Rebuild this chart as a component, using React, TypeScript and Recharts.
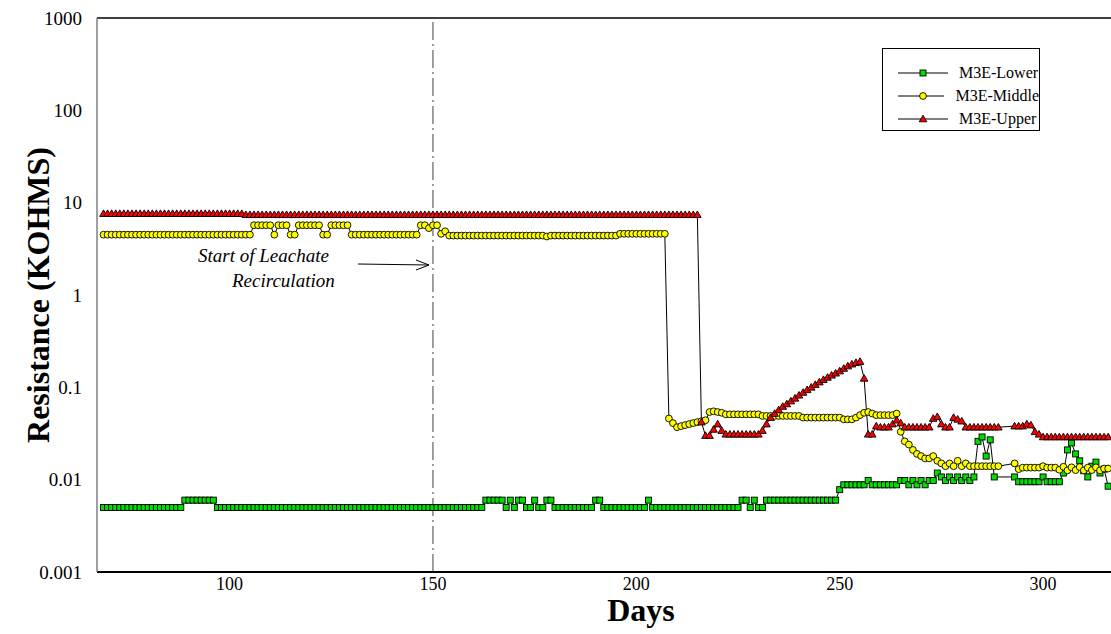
import { LineChart, Line, XAxis, YAxis, ReferenceLine, Legend } from "recharts";

const SERIF = "'Liberation Serif', 'Times New Roman', Times, serif";

const X_TICKS = [100, 150, 200, 250, 300];
const Y_TICKS = [0.001, 0.01, 0.1, 1, 10, 100, 1000];
const X_DOMAIN = [67.4, 316.7];
const RECIRCULATION_DAY = 150;

// Daily resistance readings (kOhm), stored as [firstDay, lastDay, value] runs.
const lowerRuns: [number, number, number][] = [
  [69, 88, 0.005], [89, 96, 0.006], [97, 162, 0.005], [163, 167, 0.006],
  [168, 168, 0.005], [169, 169, 0.006], [170, 170, 0.005], [171, 172, 0.006],
  [173, 174, 0.005], [175, 175, 0.006], [176, 177, 0.005], [178, 179, 0.006],
  [180, 189, 0.005], [190, 191, 0.006], [192, 202, 0.005], [203, 203, 0.006],
  [204, 225, 0.005], [226, 227, 0.006], [228, 228, 0.005], [229, 229, 0.006],
  [230, 231, 0.005], [232, 249, 0.006], [250, 250, 0.0078], [251, 256, 0.0088],
  [257, 257, 0.0098], [258, 264, 0.0088], [265, 266, 0.0098], [267, 267, 0.0088],
  [268, 268, 0.0098], [269, 269, 0.0088], [270, 270, 0.0098], [271, 271, 0.0088],
  [272, 273, 0.0098], [274, 274, 0.0118], [275, 275, 0.0107], [276, 276, 0.0098],
  [277, 277, 0.0107], [278, 278, 0.0098], [279, 279, 0.0107], [280, 280, 0.0098],
  [281, 281, 0.0107], [282, 282, 0.0098], [283, 283, 0.0107], [284, 284, 0.026],
  [285, 285, 0.029], [286, 286, 0.018], [287, 287, 0.027], [288, 288, 0.0107],
  [293, 293, 0.0107], [294, 299, 0.0095], [300, 300, 0.0107], [301, 304, 0.0095],
  [305, 305, 0.0118], [306, 306, 0.021], [307, 307, 0.025], [308, 308, 0.019],
  [309, 309, 0.016], [310, 310, 0.0125], [311, 311, 0.0107], [312, 312, 0.014],
  [313, 313, 0.0155], [314, 314, 0.0118], [315, 315, 0.013], [316, 316, 0.0085],
];

const middleRuns: [number, number, number][] = [
  [69, 105, 4.5], [106, 110, 5.7], [111, 111, 4.5], [112, 114, 5.7],
  [115, 116, 4.5], [117, 122, 5.7], [123, 124, 4.5], [125, 129, 5.7],
  [130, 146, 4.5], [147, 148, 5.7], [149, 149, 5.3], [150, 151, 5.7],
  [152, 152, 4.6], [153, 153, 4.9], [154, 177, 4.4], [178, 178, 4.3],
  [179, 195, 4.4], [196, 207, 4.6], [208, 208, 0.046], [209, 209, 0.041],
  [210, 210, 0.037], [211, 211, 0.038], [212, 212, 0.039], [213, 213, 0.04],
  [214, 214, 0.041], [215, 215, 0.042], [216, 216, 0.043], [217, 217, 0.044],
  [218, 218, 0.054], [219, 219, 0.055], [220, 220, 0.054], [221, 221, 0.053],
  [222, 230, 0.051], [231, 240, 0.049], [241, 250, 0.047], [251, 253, 0.045],
  [254, 254, 0.047], [255, 255, 0.05], [256, 256, 0.053], [257, 257, 0.054],
  [258, 258, 0.052], [259, 263, 0.05], [264, 264, 0.052], [265, 265, 0.033],
  [266, 266, 0.026], [267, 267, 0.024], [268, 268, 0.021], [269, 269, 0.019],
  [270, 270, 0.018], [271, 272, 0.017], [273, 273, 0.018], [274, 274, 0.016],
  [275, 275, 0.015], [276, 276, 0.014], [277, 277, 0.015], [278, 278, 0.014],
  [279, 279, 0.016], [280, 280, 0.014], [281, 281, 0.015], [282, 289, 0.014],
  [293, 293, 0.015], [294, 294, 0.013], [295, 299, 0.0135], [300, 300, 0.014],
  [301, 303, 0.0135], [304, 304, 0.0128], [305, 305, 0.0138], [306, 306, 0.0126],
  [307, 307, 0.0136], [308, 308, 0.0127], [309, 309, 0.0137], [310, 310, 0.0126],
  [311, 311, 0.0135], [312, 312, 0.0127], [313, 313, 0.0136], [314, 314, 0.0126],
  [315, 316, 0.0132],
];

const upperRuns: [number, number, number][] = [
  [69, 103, 7.6], [104, 215, 7.4], [216, 216, 0.042], [217, 218, 0.03],
  [219, 219, 0.035], [220, 220, 0.04], [221, 221, 0.034], [222, 230, 0.031],
  [231, 231, 0.034], [232, 232, 0.04], [233, 233, 0.047], [234, 234, 0.052],
  [235, 235, 0.057], [236, 236, 0.062], [237, 237, 0.066], [238, 238, 0.071],
  [239, 239, 0.076], [240, 240, 0.082], [241, 241, 0.088], [242, 242, 0.094],
  [243, 243, 0.1], [244, 244, 0.107], [245, 245, 0.114], [246, 246, 0.121],
  [247, 247, 0.128], [248, 248, 0.135], [249, 249, 0.142], [250, 250, 0.15],
  [251, 251, 0.16], [252, 252, 0.17], [253, 253, 0.178], [254, 254, 0.185],
  [255, 255, 0.19], [256, 256, 0.125], [257, 258, 0.031], [259, 259, 0.038],
  [260, 262, 0.037], [263, 263, 0.04], [264, 264, 0.044], [265, 265, 0.041],
  [266, 272, 0.037], [273, 273, 0.046], [274, 274, 0.048], [275, 275, 0.04],
  [276, 277, 0.037], [278, 278, 0.047], [279, 279, 0.045], [280, 280, 0.043],
  [281, 289, 0.037], [293, 295, 0.038], [296, 296, 0.04], [297, 297, 0.039],
  [298, 298, 0.033], [299, 299, 0.031], [300, 316, 0.029],
];

const expand = (runs: [number, number, number][]) => {
  const pts: { day: number; r: number }[] = [];
  for (const [a, b, v] of runs) for (let d = a; d <= b; d++) pts.push({ day: d, r: v });
  return pts;
};

type Kind = "square" | "circle" | "triangle";

const Marker = ({ kind, cx, cy }: { kind: Kind; cx: number; cy: number }) => {
  if (kind === "square")
    return <rect x={cx - 3} y={cy - 3} width={6} height={6} fill="#00DD00" stroke="#000" strokeWidth={0.9} />;
  if (kind === "circle")
    return <circle cx={cx} cy={cy} r={3.4} fill="#FFFF00" stroke="#000" strokeWidth={0.9} />;
  return (
    <polygon
      points={`${cx},${cy - 3.8} ${cx + 3.8},${cy + 2.8} ${cx - 3.8},${cy + 2.8}`}
      fill="#FF0000"
      stroke="#000"
      strokeWidth={0.9}
    />
  );
};

const series = [
  { name: "M3E-Lower", kind: "square" as Kind, data: expand(lowerRuns) },
  { name: "M3E-Middle", kind: "circle" as Kind, data: expand(middleRuns) },
  { name: "M3E-Upper", kind: "triangle" as Kind, data: expand(upperRuns) },
];

// tick text drawn by hand so the serif face and size stick
const DayTick = ({ x, y, payload }: any) => (
  <text x={x} y={y} dy="0.71em" textAnchor="middle" fontFamily={SERIF} fontSize={18} fill="#000">
    {payload.value}
  </text>
);

const ResistanceTick = ({ x, y, payload }: any) => (
  <text x={x} y={y} dy="0.35em" textAnchor="end" fontFamily={SERIF} fontSize={19} fill="#000">
    {String(payload.value)}
  </text>
);

const LegendBox = () => (
  <div
    style={{
      border: "1px solid #000",
      background: "#fff",
      width: 158,
      boxSizing: "border-box",
      padding: "12px 0 0 15px",
      fontFamily: SERIF,
      fontSize: 16,
      color: "#000",
    }}
  >
    {series.map((s) => (
      <div key={s.name} style={{ display: "flex", alignItems: "center", height: 23 }}>
        <svg width={50} height={12} style={{ display: "block" }}>
          <line x1={0} y1={6} x2={50} y2={6} stroke="#000" strokeWidth={1} />
          <Marker kind={s.kind} cx={25} cy={6} />
        </svg>
        <span style={{ marginLeft: 11, whiteSpace: "nowrap" }}>{s.name}</span>
      </div>
    ))}
  </div>
);

export default function App() {
  return (
    <div
      style={{
        position: "absolute",
        left: 0,
        top: 0,
        width: 1111,
        height: 634,
        background: "#fff",
        fontFamily: SERIF,
      }}
    >
      <LineChart width={1111} height={634} margin={{ top: 18, right: 0, bottom: 0, left: 0 }}>
        <XAxis
          type="number"
          dataKey="day"
          domain={X_DOMAIN}
          ticks={X_TICKS}
          allowDataOverflow
          height={62}
          tickLine={false}
          tickSize={0}
          tickMargin={5}
          tick={<DayTick />}
          axisLine={{ stroke: "#000", strokeWidth: 2 }}
        />
        <YAxis
          type="number"
          dataKey="r"
          scale="log"
          domain={[0.001, 1000]}
          ticks={Y_TICKS}
          allowDataOverflow
          width={97}
          tickLine={false}
          tickSize={0}
          tickMargin={15}
          tick={<ResistanceTick />}
          axisLine={{ stroke: "#808080", strokeWidth: 1.5 }}
        />
        <ReferenceLine y={1000} stroke="#000" strokeWidth={1.5} />
        <ReferenceLine x={RECIRCULATION_DAY} stroke="#404040" strokeWidth={1} strokeDasharray="18 4 2 4" />
        {series.map((s) => (
          <Line
            key={s.name}
            name={s.name}
            data={s.data}
            dataKey="r"
            type="linear"
            stroke="#000"
            strokeWidth={1}
            isAnimationActive={false}
            activeDot={false}
            dot={(p: any) => <Marker key={`${s.name}-${p.index}`} kind={s.kind} cx={p.cx} cy={p.cy} />}
          />
        ))}
        <Legend
          layout="vertical"
          align="center"
          verticalAlign="middle"
          wrapperStyle={{ left: 882, top: 48, width: 158 }}
          content={() => <LegendBox />}
        />
      </LineChart>

      {/* axis titles and the recirculation callout */}
      <svg
        width={1111}
        height={634}
        style={{ position: "absolute", left: 0, top: 0, pointerEvents: "none" }}
        fontFamily={SERIF}
      >
        <text
          x={38}
          y={295}
          transform="rotate(-90 38 295)"
          textAnchor="middle"
          dominantBaseline="central"
          fontSize={32}
          fontWeight="bold"
        >
          Resistance (KOHMS)
        </text>
        <text x={641} y={621} textAnchor="middle" fontSize={32} fontWeight="bold">
          Days
        </text>
        <text x={198} y={262} fontSize={19} fontStyle="italic">
          Start of Leachate
        </text>
        <text x={232} y={287} fontSize={19} fontStyle="italic">
          Recirculation
        </text>
        <line x1={358} y1={264} x2={429} y2={265} stroke="#000" strokeWidth={1} />
        <polyline points="416,260 429,265 416,270" fill="none" stroke="#000" strokeWidth={1} />
      </svg>
    </div>
  );
}
